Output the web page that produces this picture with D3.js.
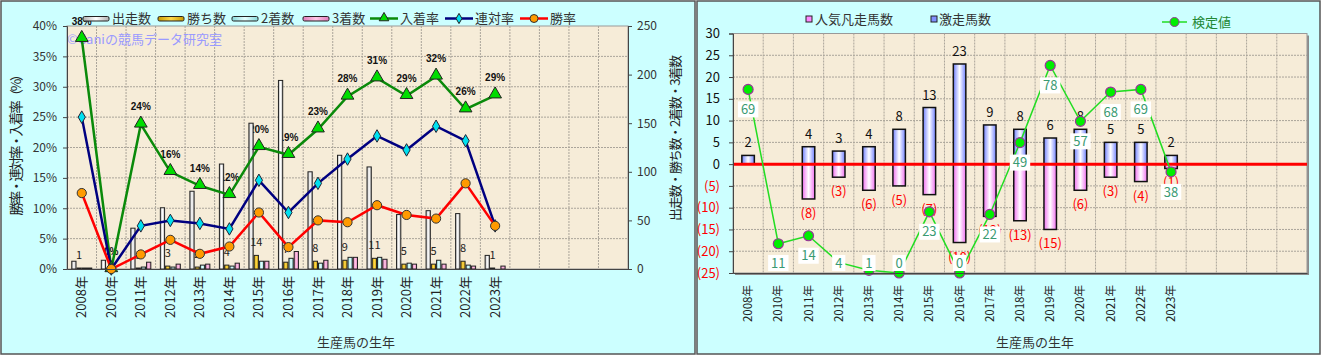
<!DOCTYPE html>
<html>
<head>
<meta charset="utf-8">
<script src="https://cdn.jsdelivr.net/npm/d3@7"></script>
<style>
  body { margin: 0; background: #fff; }
  svg { display: block; font-family: "Noto Sans CJK JP", "Noto Sans", sans-serif; }
</style>
</head>
<body>
<svg id="chart" width="1322" height="356"></svg>
<script>
// ---- data ----
const years = ["2008年","2010年","2011年","2012年","2013年","2014年","2015年","2016年",
               "2017年","2018年","2019年","2020年","2021年","2022年","2023年"];
const slotCount = 19; // the axis keeps 4 empty slots after 2023

// left chart: counts (right axis)
const runs    = [8, 9, 42, 63, 80, 108, 150, 194, 100, 117, 105, 56, 60, 57, 14];
const wins    = [1, 0, 1, 3, 2, 4, 14, 7, 8, 9, 11, 5, 5, 8, 1];
const seconds = [1, 0, 2, 2, 4, 3, 8, 11, 6, 12, 12, 6, 9, 4, 0];
const thirds  = [1, 0, 7, 5, 5, 6, 8, 18, 9, 12, 10, 5, 5, 3, 3];
// left chart: rates in % (left axis)
const placeRate  = [37.9, 0, 23.8, 16, 13.7, 12.2, 20.1, 18.8, 23, 28.4, 31.4, 28.5, 31.7, 26.3, 28.6];
const rentaiRate = [25, 0, 7.1, 8, 7.5, 6.6, 14.6, 9.3, 14.1, 18.1, 21.9, 19.6, 23.5, 21.1, 7.1];
const winRate    = [12.5, 0, 2.4, 4.8, 2.5, 3.7, 9.3, 3.6, 8, 7.7, 10.5, 8.9, 8.3, 14.1, 7.1];

// right chart
const hitCount  = [2, 0, 4, 3, 4, 8, 13, 23, 9, 8, 6, 8, 5, 5, 2];    // 激走馬数
const flopCount = [0, 0, 8, 3, 6, 5, 7, 18, 12, 13, 15, 6, 3, 4, 1];  // 人気凡走馬数
const testValue = [69, 11, 14, 4, 1, 0, 23, 0, 22, 49, 78, 57, 68, 69, 38]; // 検定値

const pctTicks = [0, 5, 10, 15, 20, 25, 30, 35, 40];
const cntTicks = [0, 50, 100, 150, 200, 250];
const rTicks   = [-25, -20, -15, -10, -5, 0, 5, 10, 15, 20, 25, 30];

const svg = d3.select("#chart");
const defs = svg.append("defs");

// keep the year index with each value so filtered selections stay in place
const indexed = vals => vals.map((v, i) => ({v: v, i: i}));

// horizontal gradients used for the bars
function gradient(id, edge, mid) {
  let g = defs.append("linearGradient").attr("id", id)
    .attr("x1", "0%").attr("x2", "100%").attr("y1", "0%").attr("y2", "0%");
  g.append("stop").attr("offset", "0%").attr("stop-color", edge);
  g.append("stop").attr("offset", "50%").attr("stop-color", mid);
  g.append("stop").attr("offset", "100%").attr("stop-color", edge);
}
gradient("gRuns", "#b0b0b0", "#ffffff");
gradient("gWins", "#c89a00", "#ffd84a");
gradient("gSec", "#86d8d8", "#e6ffff");
gradient("gThird", "#e07cbc", "#ffc6e6");
gradient("gHit", "#7080ff", "#ffffff");
gradient("gFlop", "#f070f0", "#ffffff");

// panel backgrounds
svg.append("rect").attr("x", 1).attr("y", 1).attr("width", 694).attr("height", 353)
  .attr("fill", "#ccffff").attr("stroke", "#555").attr("stroke-width", 1.5);
svg.append("rect").attr("x", 697).attr("y", 1).attr("width", 623).attr("height", 353)
  .attr("fill", "#ccffff").attr("stroke", "#555").attr("stroke-width", 1.5);

function styleAxis(g, size, color) {
  g.select(".domain").attr("stroke", "#444");
  g.selectAll(".tick line").attr("stroke", "#444");
  g.selectAll(".tick text").attr("font-size", size).attr("fill", color || "#222")
    .attr("font-family", "\"Noto Sans CJK JP\", sans-serif");
}

/* ======================= LEFT CHART ======================= */
const L = {x0: 67, x1: 628, y0: 26, y1: 269};
const xL = d3.scaleBand().domain(d3.range(slotCount)).range([L.x0, L.x1]);
const yPct = d3.scaleLinear().domain([0, 40]).range([L.y1, L.y0]);
const yCnt = d3.scaleLinear().domain([0, 250]).range([L.y1, L.y0]);
const groupW = 21;
const xInner = d3.scaleBand().domain([0, 1, 2, 3]).range([0, groupW]);
const cx = i => xL(i) + xL.bandwidth() / 2;
const barX = (i, k) => xL(i) + (xL.bandwidth() - groupW) / 2 + xInner(k);

let left = svg.append("g");
left.append("rect").attr("x", L.x0).attr("y", L.y0)
  .attr("width", L.x1 - L.x0).attr("height", L.y1 - L.y0)
  .attr("fill", "#f6ecd8").attr("stroke", "#999");

// grid
left.selectAll("line.hgrid").data(pctTicks.slice(1, -1)).enter().append("line")
  .attr("x1", L.x0).attr("x2", L.x1).attr("y1", d => yPct(d)).attr("y2", d => yPct(d))
  .attr("stroke", "#aaa49a").attr("stroke-dasharray", "2,1");
left.selectAll("line.vgrid").data(d3.range(1, slotCount)).enter().append("line")
  .attr("y1", L.y0).attr("y2", L.y1).attr("x1", d => xL(d)).attr("x2", d => xL(d))
  .attr("stroke", "#aaa49a").attr("stroke-dasharray", "2,1");

// watermark
left.append("text").attr("x", 67).attr("y", 44).attr("font-size", 13)
  .attr("fill", "#9a9aff").text("©Caniの競馬データ研究室");

// percentage labels of 入着率 (the bars partly cover them)
left.append("g").selectAll("text").data(placeRate).enter().append("text")
  .attr("x", (d, i) => cx(i)).attr("y", d => yPct(d) - 14)
  .attr("text-anchor", "middle").attr("font-size", 10).attr("font-weight", "bold")
  .attr("font-family", "\"Liberation Sans\", sans-serif").attr("fill", "#111")
  .text(d => Math.round(d) + "%");

// bars
const barSeries = [
  {vals: runs, fill: "url(#gRuns)"},
  {vals: wins, fill: "url(#gWins)"},
  {vals: seconds, fill: "url(#gSec)"},
  {vals: thirds, fill: "url(#gThird)"}
];
barSeries.forEach((s, k) => {
  left.append("g").selectAll("rect").data(s.vals).enter().append("rect")
    .attr("x", (d, i) => barX(i, k) + 0.5)
    .attr("width", xInner.bandwidth() - 1)
    .attr("y", d => yCnt(d))
    .attr("height", d => L.y1 - yCnt(d))
    .attr("fill", s.fill).attr("stroke", "#222").attr("stroke-width", 1);
});

// count labels (wins)
left.append("g").selectAll("text").data(indexed(wins).filter(d => d.v > 0)).enter().append("text")
  .attr("x", d => barX(d.i, 1) + xInner.bandwidth() / 2)
  .attr("y", d => yCnt(d.v) - 9)
  .attr("text-anchor", "middle").attr("font-size", 11).attr("fill", "#222")
  .text(d => d.v);

// lines
function lineSeries(vals, color, width) {
  let line = d3.line().x((d, i) => cx(i)).y(d => yPct(d));
  left.append("path").datum(vals).attr("d", line)
    .attr("fill", "none").attr("stroke", color).attr("stroke-width", width);
}
lineSeries(placeRate, "#0a8a0a", 2.5);
lineSeries(rentaiRate, "#000080", 2.5);
lineSeries(winRate, "#ff0000", 2.5);

// markers
left.append("g").selectAll("path").data(placeRate).enter().append("path")
  .attr("d", d3.symbol().type(d3.symbolTriangle).size(70))
  .attr("transform", (d, i) => "translate(" + cx(i) + "," + (yPct(d) - 1) + ")")
  .attr("fill", "#00dd00").attr("stroke", "#222").attr("stroke-width", 1);
left.append("g").selectAll("path").data(rentaiRate).enter().append("path")
  .attr("d", d3.symbol().type(d3.symbolDiamond).size(45))
  .attr("transform", (d, i) => "translate(" + cx(i) + "," + yPct(d) + ")")
  .attr("fill", "#00e0f0").attr("stroke", "#223").attr("stroke-width", 1);
left.append("g").selectAll("circle").data(winRate).enter().append("circle")
  .attr("cx", (d, i) => cx(i)).attr("cy", d => yPct(d)).attr("r", 4.6)
  .attr("fill", "#ff9a00").attr("stroke", "#333").attr("stroke-width", 1);

// axes
left.append("g").attr("transform", "translate(" + L.x0 + ",0)")
  .call(d3.axisLeft(yPct).tickValues(pctTicks).tickFormat(d => d + "%").tickSize(4).tickPadding(6))
  .call(g => styleAxis(g, 12, "#333"));
left.append("g").attr("transform", "translate(" + L.x1 + ",0)")
  .call(d3.axisRight(yCnt).tickValues(cntTicks).tickSize(4).tickPadding(5))
  .call(g => styleAxis(g, 12, "#333"));
left.append("g").attr("transform", "translate(0," + L.y1 + ")")
  .call(d3.axisBottom(xL).tickFormat(i => years[i] || "").tickSize(0))
  .call(g => styleAxis(g, 13, "#222"))
  .call(g => g.selectAll(".tick text").attr("transform", "rotate(-90)")
    .attr("x", -7).attr("y", 0).attr("dy", "0.35em").attr("text-anchor", "end"));

// titles
left.append("text").attr("transform", "translate(21,141.5) rotate(-90)")
  .attr("text-anchor", "middle").attr("font-size", 13.5).attr("fill", "#222")
  .attr("textLength", 148).attr("lengthAdjust", "spacing")
  .text("勝率・連対率・入着率（%）");
left.append("text").attr("transform", "translate(680,138) rotate(-90)")
  .attr("text-anchor", "middle").attr("font-size", 13).attr("fill", "#222")
  .attr("textLength", 166).attr("lengthAdjust", "spacing")
  .text("出走数・勝ち数・2着数・3着数");
left.append("text").attr("x", 356).attr("y", 347).attr("text-anchor", "middle")
  .attr("font-size", 13).attr("fill", "#333").text("生産馬の生年");

// legend
const legBars = [
  {x: 83, label: "出走数", fill: "url(#gRuns)"},
  {x: 158, label: "勝ち数", fill: "url(#gWins)"},
  {x: 232, label: "2着数", fill: "url(#gSec)"},
  {x: 303, label: "3着数", fill: "url(#gThird)"}
];
legBars.forEach(b => {
  left.append("rect").attr("x", b.x).attr("y", 16.5).attr("width", 26).attr("height", 4.5)
    .attr("rx", 1.5).attr("fill", b.fill).attr("stroke", "#222");
  left.append("text").attr("x", b.x + 29).attr("y", 23).attr("font-size", 13)
    .attr("fill", "#333").text(b.label);
});
const legLines = [
  {x: 370, label: "入着率", color: "#0a8a0a", mark: "tri"},
  {x: 445, label: "連対率", color: "#000080", mark: "dia"},
  {x: 520, label: "勝率", color: "#ff0000", mark: "cir"}
];
legLines.forEach(l => {
  left.append("line").attr("x1", l.x).attr("x2", l.x + 28).attr("y1", 18.5).attr("y2", 18.5)
    .attr("stroke", l.color).attr("stroke-width", 2.5);
  if (l.mark == "tri") {
    left.append("path").attr("d", d3.symbol().type(d3.symbolTriangle).size(40))
      .attr("transform", "translate(" + (l.x + 14) + ",18)").attr("fill", "#00dd00").attr("stroke", "#222");
  } else if (l.mark == "dia") {
    left.append("path").attr("d", d3.symbol().type(d3.symbolDiamond).size(30))
      .attr("transform", "translate(" + (l.x + 14) + ",18.5)").attr("fill", "#00e0f0").attr("stroke", "#222");
  } else {
    left.append("circle").attr("cx", l.x + 14).attr("cy", 18.5).attr("r", 4)
      .attr("fill", "#ff9a00").attr("stroke", "#333");
  }
  left.append("text").attr("x", l.x + 30).attr("y", 23).attr("font-size", 13)
    .attr("fill", "#333").text(l.label);
});

/* ======================= RIGHT CHART ======================= */
const R = {x0: 733, x1: 1307, y0: 33.5, y1: 273};
const xR = d3.scaleBand().domain(d3.range(slotCount)).range([R.x0, R.x1]);
const yR = d3.scaleLinear().domain([-25, 30]).range([R.y1, R.y0]);
const yT = d3.scaleLinear().domain([0, 90]).range([R.y1, R.y0]); // hidden axis of 検定値
const rcx = i => xR(i) + xR.bandwidth() / 2;
const barW = 12.5;

let right = svg.append("g");
right.append("rect").attr("x", R.x0 + 2).attr("y", R.y0 + 2)
  .attr("width", R.x1 - R.x0).attr("height", R.y1 - R.y0).attr("fill", "#8a8a8a");
right.append("rect").attr("x", R.x0).attr("y", R.y0)
  .attr("width", R.x1 - R.x0).attr("height", R.y1 - R.y0)
  .attr("fill", "#f6ecd8").attr("stroke", "#999");

right.selectAll("line.hgrid").data(rTicks.slice(1, -1)).enter().append("line")
  .attr("x1", R.x0).attr("x2", R.x1).attr("y1", d => yR(d)).attr("y2", d => yR(d))
  .attr("stroke", "#aaa49a").attr("stroke-dasharray", "2,1");
right.selectAll("line.vgrid").data(d3.range(1, slotCount)).enter().append("line")
  .attr("y1", R.y0).attr("y2", R.y1).attr("x1", d => xR(d)).attr("x2", d => xR(d))
  .attr("stroke", "#aaa49a").attr("stroke-dasharray", "2,1");

// bars
right.append("g").selectAll("rect").data(hitCount).enter().append("rect")
  .attr("x", (d, i) => rcx(i) - barW / 2).attr("width", barW)
  .attr("y", d => yR(d)).attr("height", d => yR(0) - yR(d))
  .attr("fill", "url(#gHit)").attr("stroke", "#111").attr("stroke-width", 1.5);
right.append("g").selectAll("rect").data(flopCount).enter().append("rect")
  .attr("x", (d, i) => rcx(i) - barW / 2).attr("width", barW)
  .attr("y", yR(0)).attr("height", d => yR(-d) - yR(0))
  .attr("fill", "url(#gFlop)").attr("stroke", "#111").attr("stroke-width", 1.5);

// zero line
right.append("line").attr("x1", R.x0).attr("x2", R.x1).attr("y1", yR(0)).attr("y2", yR(0))
  .attr("stroke", "#ff0000").attr("stroke-width", 3);

// bar labels
right.append("g").selectAll("text").data(indexed(hitCount).filter(d => d.v > 0)).enter().append("text")
  .attr("x", d => rcx(d.i)).attr("y", d => yR(d.v) - 8)
  .attr("text-anchor", "middle").attr("font-size", 13).attr("fill", "#111").text(d => d.v);
right.append("g").selectAll("text").data(indexed(flopCount).filter(d => d.v > 0)).enter().append("text")
  .attr("x", d => rcx(d.i)).attr("y", d => yR(-d.v) + 19)
  .attr("text-anchor", "middle").attr("font-size", 13).attr("fill", "#ff0000")
  .text(d => "(" + d.v + ")");

// 検定値 line
right.append("path").datum(testValue)
  .attr("d", d3.line().x((d, i) => rcx(i)).y(d => yT(d)))
  .attr("fill", "none").attr("stroke", "#22dd22").attr("stroke-width", 1.5);
right.append("g").selectAll("circle").data(testValue).enter().append("circle")
  .attr("cx", (d, i) => rcx(i)).attr("cy", d => yT(d)).attr("r", 5)
  .attr("fill", "#00ee00").attr("stroke", "#993399").attr("stroke-width", 1.2);

// value boxes
let boxes = right.append("g").selectAll("g").data(testValue).enter().append("g")
  .attr("transform", (d, i) => "translate(" + rcx(i) + "," + Math.min(yT(d) + 20, 263) + ")");
boxes.append("rect")
  .attr("x", d => -(String(d).length * 7.2 + 6) / 2).attr("y", -8)
  .attr("width", d => String(d).length * 7.2 + 6).attr("height", 16).attr("fill", "#fff");
boxes.append("text").attr("text-anchor", "middle").attr("dy", "0.36em")
  .attr("font-size", 13).attr("fill", "#3a9a72").text(d => d);

// axes
right.append("g").attr("transform", "translate(" + R.x0 + ",0)")
  .call(d3.axisLeft(yR).tickValues(rTicks).tickFormat(d => d < 0 ? "(" + (-d) + ")" : d)
    .tickSize(4).tickPadding(9))
  .call(g => styleAxis(g, 13, "#111"))
  .call(g => g.selectAll(".tick text").attr("fill", d => d < 0 ? "#ff0000" : "#111"));
right.append("g").attr("transform", "translate(0," + R.y1 + ")")
  .call(d3.axisBottom(xR).tickFormat(i => years[i] || "").tickSize(0))
  .call(g => styleAxis(g, 11.5, "#222"))
  .call(g => g.selectAll(".tick text").attr("transform", "rotate(-90)")
    .attr("x", -12).attr("y", 0).attr("dy", "0.35em").attr("text-anchor", "end"));

right.append("text").attr("x", 1035).attr("y", 347).attr("text-anchor", "middle")
  .attr("font-size", 13).attr("fill", "#333").text("生産馬の生年");

// legend
right.append("rect").attr("x", 806).attr("y", 16).attr("width", 6).attr("height", 6)
  .attr("fill", "#ff88ff").attr("stroke", "#222");
right.append("text").attr("x", 815).attr("y", 24).attr("font-size", 13).attr("fill", "#333")
  .text("人気凡走馬数");
right.append("rect").attr("x", 931).attr("y", 16).attr("width", 6).attr("height", 6)
  .attr("fill", "#8090ff").attr("stroke", "#222");
right.append("text").attr("x", 939).attr("y", 24).attr("font-size", 13).attr("fill", "#333")
  .text("激走馬数");
right.append("line").attr("x1", 1162).attr("x2", 1187).attr("y1", 22).attr("y2", 22)
  .attr("stroke", "#22dd22").attr("stroke-width", 1.5);
right.append("circle").attr("cx", 1174.5).attr("cy", 22).attr("r", 4.5)
  .attr("fill", "#00ee00").attr("stroke", "#993399");
right.append("text").attr("x", 1192).attr("y", 27).attr("font-size", 13).attr("fill", "#228833")
  .text("検定値");
</script>
</body>
</html>
